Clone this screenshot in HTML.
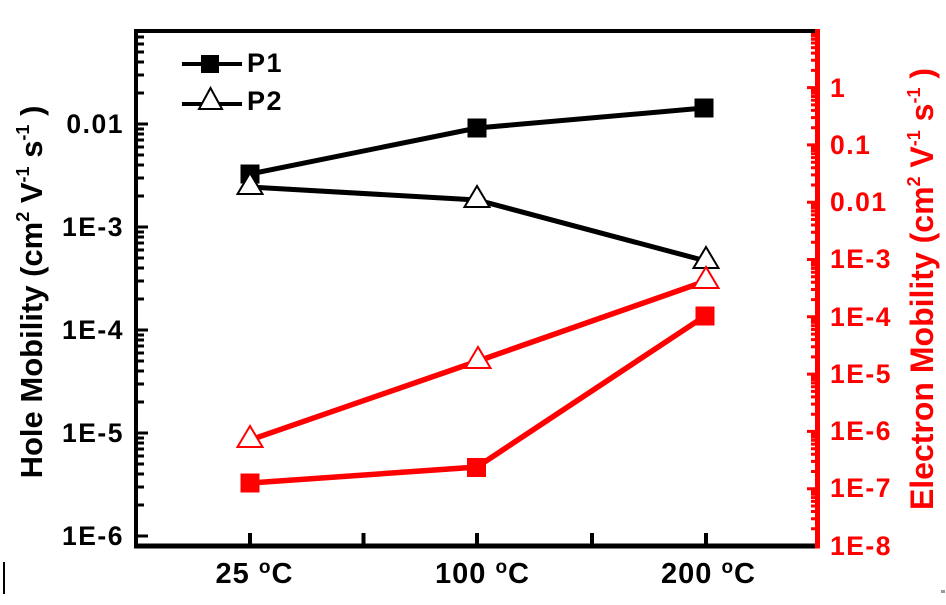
<!DOCTYPE html>
<html><head><meta charset="utf-8"><style>
html,body{margin:0;padding:0;background:#fff;}
svg{display:block;}
text{font-family:"Liberation Sans",Arial,sans-serif;font-weight:bold;}
</style></head><body>
<svg width="946" height="605" viewBox="0 0 946 605" xmlns="http://www.w3.org/2000/svg">
<rect width="946" height="605" fill="#fff"/>

<!-- left axis ticks -->
<path fill="none" stroke="#000" stroke-width="3" d="M138 536h10M138 433h10M138 330h10M138 227h10M138 124h10
M138 505h6M138 487h6M138 474h6M138 464h6M138 456h6M138 449h6M138 443h6M138 438h6
M138 402h6M138 384h6M138 371h6M138 361h6M138 353h6M138 346h6M138 340h6M138 335h6
M138 299h6M138 281h6M138 268h6M138 258h6M138 250h6M138 243h6M138 237h6M138 232h6
M138 196h6M138 178h6M138 165h6M138 155h6M138 147h6M138 140h6M138 134h6M138 129h6
M138 93h6M138 75h6M138 62h6M138 52h6M138 44h6M138 37h6"/>

<!-- right axis ticks -->
<path fill="none" stroke="#f00" stroke-width="3" d="M807 546h9M807 488.7h9M807 431.4h9M807 374.1h9M807 316.8h9M807 259.5h9M807 202.2h9M807 144.9h9M807 87.6h9
M811 528.8h5M811 518.7h5M811 511.5h5M811 506h5M811 501.4h5M811 497.6h5M811 494.3h5M811 491.3h5
M811 471.5h5M811 461.4h5M811 454.2h5M811 448.7h5M811 444.1h5M811 440.3h5M811 437h5M811 434h5
M811 414.2h5M811 404.1h5M811 396.9h5M811 391.4h5M811 386.8h5M811 383h5M811 379.7h5M811 376.7h5
M811 356.9h5M811 346.8h5M811 339.6h5M811 334.1h5M811 329.5h5M811 325.7h5M811 322.4h5M811 319.4h5
M811 299.6h5M811 289.5h5M811 282.3h5M811 276.8h5M811 272.2h5M811 268.4h5M811 265.1h5M811 262.1h5
M811 242.3h5M811 232.2h5M811 225h5M811 219.5h5M811 214.9h5M811 211.1h5M811 207.8h5M811 204.8h5
M811 185h5M811 174.9h5M811 167.7h5M811 162.2h5M811 157.6h5M811 153.8h5M811 150.5h5M811 147.5h5
M811 127.7h5M811 117.6h5M811 110.4h5M811 104.9h5M811 100.3h5M811 96.5h5M811 93.2h5M811 90.2h5
M811 70.4h5M811 60.3h5M811 53.1h5M811 47.6h5M811 43h5M811 39.2h5M811 35.9h5M811 32.9h5"/>

<!-- x ticks -->
<path fill="none" stroke="#000" stroke-width="4" d="M250 533v12M363.5 533v12M477 533v12M592 533v12M706 533v12"/>

<!-- frame -->
<line x1="134" y1="31" x2="817" y2="31" stroke="#000" stroke-width="4"/>
<line x1="136" y1="29" x2="136" y2="548.5" stroke="#000" stroke-width="4"/>
<line x1="134" y1="546" x2="815" y2="546" stroke="#000" stroke-width="5"/>
<line x1="817.5" y1="29" x2="817.5" y2="548.5" stroke="#f00" stroke-width="5"/>

<!-- data lines -->
<polyline fill="none" stroke="#000" stroke-width="5" points="250,174 477,128 704,108"/>
<polyline fill="none" stroke="#000" stroke-width="5" points="250,187 477,200 706,261"/>
<polyline fill="none" stroke="#f00" stroke-width="5.5" points="250,483 477,467 705,316"/>
<polyline fill="none" stroke="#f00" stroke-width="5.5" points="250,440 478,361 706,281"/>

<!-- squares -->
<g fill="#000">
<rect x="240.5" y="164.5" width="19" height="19"/>
<rect x="467.5" y="118.5" width="19" height="19"/>
<rect x="694.5" y="98.5" width="19" height="19"/>
</g>
<g fill="#f00">
<rect x="240.5" y="473.5" width="19" height="19"/>
<rect x="467" y="458" width="19" height="19"/>
<rect x="695.5" y="306.5" width="19" height="19"/>
</g>

<!-- triangles -->
<g fill="#fff" stroke="#000" stroke-width="2">
<polygon points="250,173 237.5,194 262.5,194"/>
<polygon points="477,186 464.5,207 489.5,207"/>
<polygon points="706,247 693.5,268 718.5,268"/>
</g>
<g fill="#fff" stroke="#f00" stroke-width="2">
<polygon points="250,426 237.5,447 262.5,447"/>
<polygon points="478,347 465.5,368 490.5,368"/>
<polygon points="706,267 693.5,288 718.5,288"/>
</g>

<!-- legend -->
<line x1="182" y1="64" x2="242" y2="64" stroke="#000" stroke-width="4"/>
<rect x="201" y="55" width="18" height="18" fill="#000"/>
<line x1="182" y1="104" x2="242" y2="104" stroke="#000" stroke-width="4"/>
<polygon points="210.5,88 199,109 222,109" fill="#fff" stroke="#000" stroke-width="2"/>
<text x="247" y="72" font-size="27" letter-spacing="1.5" fill="#000">P1</text>
<text x="247" y="110" font-size="27" letter-spacing="1.5" fill="#000">P2</text>

<!-- left tick labels -->
<g font-size="26.5" letter-spacing="1.5" fill="#000" text-anchor="end">
<text x="124" y="133">0.01</text>
<text x="124" y="236">1E-3</text>
<text x="124" y="339">1E-4</text>
<text x="124" y="442">1E-5</text>
<text x="124" y="545">1E-6</text>
</g>

<!-- right tick labels -->
<g font-size="26.5" letter-spacing="1.5" fill="#f00">
<text x="830" y="97">1</text>
<text x="830" y="154">0.1</text>
<text x="830" y="211">0.01</text>
<text x="830" y="268">1E-3</text>
<text x="830" y="326">1E-4</text>
<text x="830" y="383">1E-5</text>
<text x="830" y="440">1E-6</text>
<text x="830" y="497">1E-7</text>
<text x="830" y="555">1E-8</text>
</g>

<!-- x labels -->
<g font-size="29" letter-spacing="1" fill="#000" text-anchor="middle">
<text x="254.5" y="583">25 <tspan font-size="19" dy="-10">o</tspan><tspan dy="10">C</tspan></text>
<text x="482.5" y="583">100 <tspan font-size="19" dy="-10">o</tspan><tspan dy="10">C</tspan></text>
<text x="708.5" y="583">200 <tspan font-size="19" dy="-10">o</tspan><tspan dy="10">C</tspan></text>
</g>

<!-- axis titles -->
<text transform="translate(42,292) rotate(-90)" font-size="31" fill="#000" text-anchor="middle">Hole Mobility (cm<tspan font-size="18" dy="-13">2</tspan><tspan dy="13"> V</tspan><tspan font-size="18" dy="-13">-1</tspan><tspan dy="13"> s</tspan><tspan font-size="18" dy="-13">-1</tspan><tspan dy="13"> )</tspan></text>
<text transform="translate(933,289) rotate(-90)" font-size="32" fill="#f00" text-anchor="middle">Electron Mobility (cm<tspan font-size="18" dy="-13">2</tspan><tspan dy="13"> V</tspan><tspan font-size="18" dy="-13">-1</tspan><tspan dy="13"> s</tspan><tspan font-size="18" dy="-13">-1</tspan><tspan dy="13"> )</tspan></text>

<!-- stray marks -->
<line x1="4" y1="562" x2="4" y2="594" stroke="#000" stroke-width="2"/>
<rect x="941" y="590" width="4" height="3" fill="#999"/>
</svg>
</body></html>
